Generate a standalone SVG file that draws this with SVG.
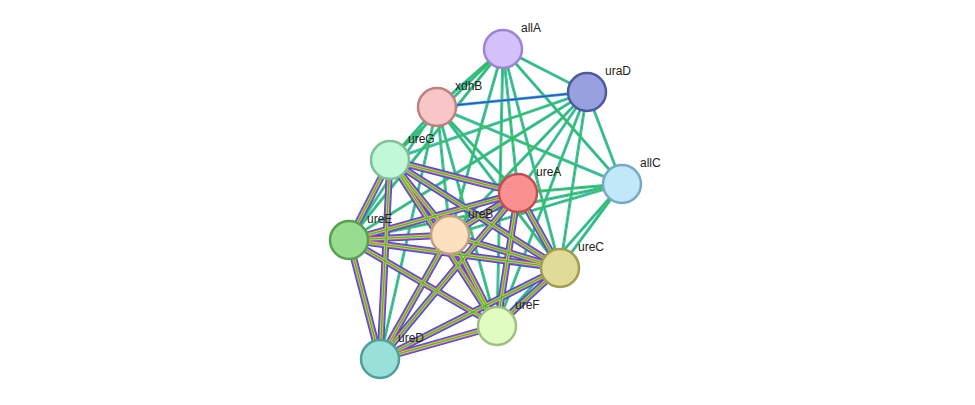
<svg xmlns="http://www.w3.org/2000/svg" xmlns:xlink="http://www.w3.org/1999/xlink" width="975" height="405" viewBox="0 0 975 405">
<style>
.c1{stroke:#3050e0;stroke-width:7;fill:none}
.c2{stroke:#c040c0;stroke-width:5;fill:none}
.c3{stroke:#d0d050;stroke-width:3;fill:none}
.c4{stroke:#30c030;stroke-width:1.2;fill:none}
.p1{stroke:#40b8e0;stroke-width:3;fill:none}
.pw{stroke:#ffffff;stroke-width:1;fill:none;opacity:0.6}
.p2{stroke:#30c030;stroke-width:1.3;fill:none}
.p3{stroke:#3050e0;stroke-width:1.5;fill:none}
.n{stroke-width:2.5}
text{font-family:"Liberation Sans",Arial,sans-serif;font-size:12px;fill:#222}
</style>
<rect width="975" height="405" fill="#fff"/>
<defs>
<path id="AB" d="M518 193L450 235"/><path id="AC" d="M518 193L560 268"/><path id="AD" d="M518 193L380 359"/>
<path id="AE" d="M518 193L349 240"/><path id="AF" d="M518 193L497 326"/><path id="AG" d="M518 193L390 160"/>
<path id="BC" d="M450 235L560 268"/><path id="BD" d="M450 235L380 359"/><path id="BE" d="M450 235L349 240"/>
<path id="BF" d="M450 235L497 326"/><path id="BG" d="M450 235L390 160"/><path id="CD" d="M560 268L380 359"/>
<path id="CE" d="M560 268L349 240"/><path id="CF" d="M560 268L497 326"/><path id="CG" d="M560 268L390 160"/>
<path id="DE" d="M380 359L349 240"/><path id="DF" d="M380 359L497 326"/><path id="DG" d="M380 359L390 160"/>
<path id="EF" d="M349 240L497 326"/><path id="EG" d="M349 240L390 160"/><path id="FG" d="M497 326L390 160"/>
<path id="q1" d="M503 49L587 92M503 49L437 107M503 49L622 184M503 49L390 160M503 49L518 193M503 49L450 235M503 49L560 268M503 49L497 326M503 49L349 240M587 92L437 107M587 92L622 184M587 92L518 193M587 92L560 268M587 92L390 160M587 92L450 235M587 92L497 326M587 92L349 240M437 107L622 184M437 107L518 193M437 107L390 160M437 107L560 268M437 107L450 235M437 107L349 240M437 107L497 326M437 107L380 359M622 184L518 193M622 184L560 268M622 184L450 235M622 184L349 240M622 184L497 326"/>
<g id="core"><use href="#AB"/><use href="#AC"/><use href="#AD"/><use href="#AE"/><use href="#AF"/><use href="#AG"/><use href="#BC"/><use href="#BD"/><use href="#BE"/><use href="#BF"/><use href="#BG"/><use href="#CD"/><use href="#CE"/><use href="#CF"/><use href="#CG"/><use href="#DE"/><use href="#DF"/><use href="#DG"/><use href="#EF"/><use href="#EG"/><use href="#FG"/></g>
</defs>
<g id="connectors">
<use href="#q1" class="p1"/><use href="#q1" class="pw"/><use href="#q1" class="p2"/>
<path d="M437 107L587 92" class="p3"/>
<use href="#core" class="c1"/><use href="#core" class="c2"/><use href="#core" class="c3"/><use href="#core" class="c4"/>
</g>
<g id="allA"><circle cx="503" cy="49" r="19" fill="#d4c0fb" stroke="#9d84d0" class="n"/><text x="521" y="32">allA</text></g>
<g id="uraD"><circle cx="587" cy="92" r="19" fill="#98a0e0" stroke="#4c5aa0" class="n"/><text x="605" y="75">uraD</text></g>
<g id="xdhB"><circle cx="437" cy="107" r="19" fill="#f8c6c6" stroke="#c08080" class="n"/><text x="455" y="90">xdhB</text></g>
<g id="ureG"><circle cx="390" cy="160" r="19" fill="#c0f8d8" stroke="#80c098" class="n"/><text x="408" y="143">ureG</text></g>
<g id="allC"><circle cx="622" cy="184" r="19" fill="#c0e8f8" stroke="#78a8c8" class="n"/><text x="640" y="167">allC</text></g>
<g id="ureA"><circle cx="518" cy="193" r="19" fill="#fb9090" stroke="#c05050" class="n"/><text x="536" y="176">ureA</text></g>
<g id="ureB"><circle cx="450" cy="235" r="19" fill="#fde0c0" stroke="#c0a080" class="n"/><text x="468" y="218">ureB</text></g>
<g id="ureE"><circle cx="349" cy="240" r="19" fill="#98dc90" stroke="#58a050" class="n"/><text x="367" y="223">ureE</text></g>
<g id="ureC"><circle cx="560" cy="268" r="19" fill="#e0dc98" stroke="#a09c50" class="n"/><text x="578" y="251">ureC</text></g>
<g id="ureF"><circle cx="497" cy="326" r="19" fill="#e0fcc0" stroke="#a0c080" class="n"/><text x="515" y="309">ureF</text></g>
<g id="ureD"><circle cx="380" cy="359" r="19" fill="#98e0d8" stroke="#50a098" class="n"/><text x="398" y="342">ureD</text></g>
</svg>
